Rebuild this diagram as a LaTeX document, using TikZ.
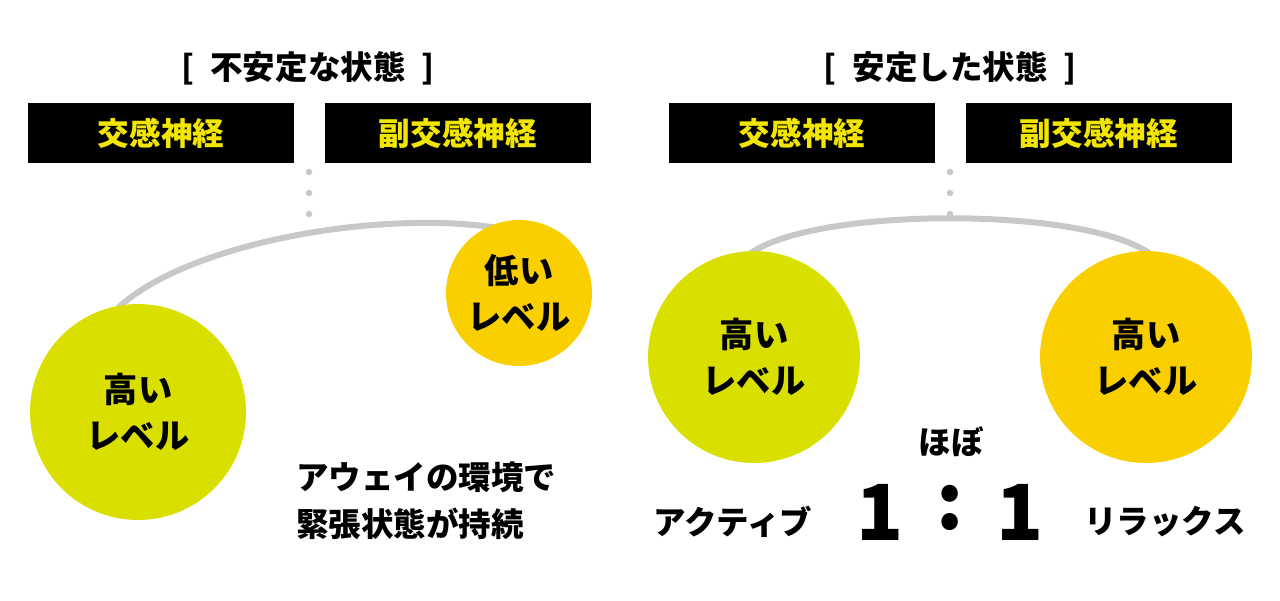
\documentclass[tikz,border=0pt]{standalone}
\usepackage{fontspec}
\setmainfont{Noto Sans CJK JP}[BoldFont={Noto Sans CJK JP Black}]
\definecolor{lime}{HTML}{D9E000}
\definecolor{gold}{HTML}{F9CF00}
\definecolor{ytext}{HTML}{F2E600}
\definecolor{arcg}{HTML}{C8C8C8}
\begin{document}
\begin{tikzpicture}[x=0.02cm,y=-0.02cm,
  hdr/.style={fill=black,text=ytext,font=\bfseries\fontsize{18}{20}\selectfont,minimum width=5.32cm,minimum height=1.2cm,inner sep=0},
  ttl/.style={font=\bfseries\fontsize{18.5}{18}\selectfont},
  circ/.style={circle,inner sep=0,align=center,font=\bfseries\fontsize{19.5}{26}\selectfont},
  txt/.style={font=\bfseries\fontsize{18.5}{27}\selectfont,align=left},
  dot/.style={circle,fill=arcg,inner sep=0,minimum size=0.13cm},
  arc/.style={draw=arcg,line width=0.12cm}]
\useasboundingbox (0,0) rectangle (1280,600);
\node[ttl] (t1) at (308,68) {[\enspace 不安定な状態\enspace ]};
\node[ttl] (t2) at (950,68) {[\enspace 安定した状態\enspace ]};
\node[hdr] (h1) at (161,133) {交感神経};
\node[hdr] (h2) at (458,133) {副交感神経};
\node[hdr] (h3) at (802,133) {交感神経};
\node[hdr] (h4) at (1099,133) {副交感神経};
\foreach \y [count=\i] in {172,193,214}{
  \node[dot] (dl\i) at (309,\y) {};
  \node[dot] (dr\i) at (950,\y) {};}
\coordinate (a1) at (118,308);
\coordinate (a2) at (520,232);
\draw[arc] (a1) .. controls (190,240) and (400,205) .. (a2);
\coordinate (b1) at (745,258);
\coordinate (b2) at (1155,258);
\draw[arc] (b1) .. controls (800,205) and (1100,205) .. (b2);
\node[circ,fill=lime,minimum size=4.32cm] (c1) at (138,412) {高い\\レベル};
\node[circ,fill=gold,minimum size=2.92cm] (c2) at (519,293) {低い\\レベル};
\node[circ,fill=lime,minimum size=4.24cm] (c3) at (754,357) {高い\\レベル};
\node[circ,fill=gold,minimum size=4.24cm] (c4) at (1146,357) {高い\\レベル};
\node[txt,anchor=west] (m1) at (290,501) {アウェイの環境で\\緊張状態が持続};
\node[txt] (h) at (951,442) {ほぼ};
\node[txt] (ac) at (733,522) {アクティブ};
\node[txt] (rl) at (1165,522) {リラックス};
\node[font=\bfseries\fontsize{44}{44}\selectfont] (o1) at (880,512) {1};
\node[font=\bfseries\fontsize{44}{44}\selectfont] (co) at (950,508) {:};
\node[font=\bfseries\fontsize{44}{44}\selectfont] (o2) at (1020,512) {1};
\end{tikzpicture}
\end{document}
